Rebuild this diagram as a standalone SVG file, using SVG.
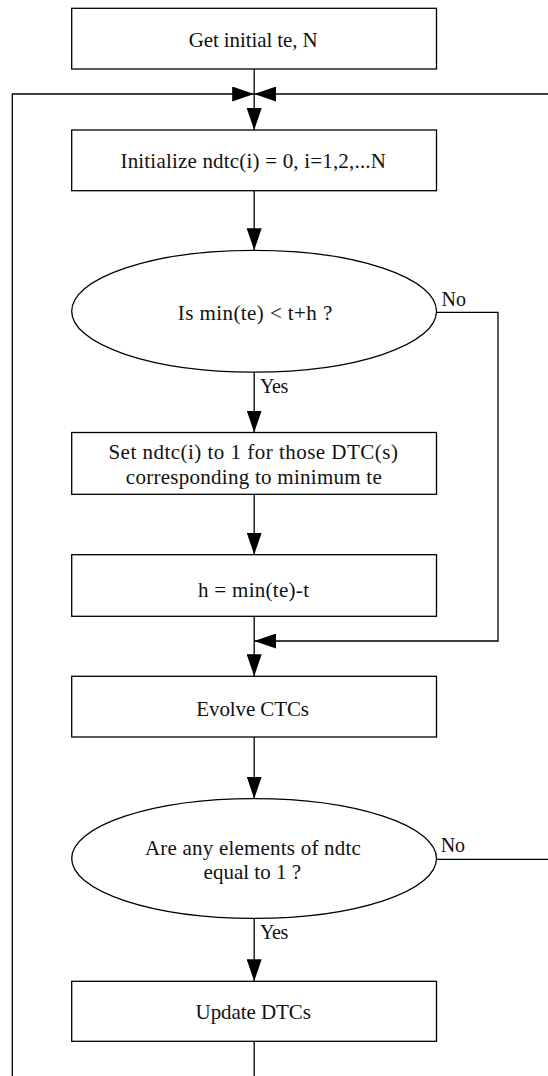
<svg xmlns="http://www.w3.org/2000/svg" width="548" height="1076" viewBox="0 0 548 1076">
  <style>
    .shape { fill: #ffffff; stroke: #000000; stroke-width: 1.3; }
    .wire { fill: none; stroke: #000000; stroke-width: 1.3; }
    .label { font-family: "Liberation Serif", "Times New Roman", serif; font-size: 21px; fill: #111111; text-anchor: middle; }
    .tag { font-family: "Liberation Serif", "Times New Roman", serif; font-size: 20px; fill: #111111; }
  </style>
  <defs>
    <marker id="arrow" viewBox="0 0 22 15" refX="22" refY="7.5" markerWidth="22" markerHeight="15" markerUnits="userSpaceOnUse" orient="auto">
      <path d="M0,0 L22,7.5 L0,15 Z" fill="#000000"/>
    </marker>
  </defs>
  <rect width="548" height="1076" fill="#ffffff"/>

  <!-- connectors -->
  <g id="connectors">
    <line class="wire" x1="254.2" y1="69" x2="254.2" y2="130" marker-end="url(#arrow)"/>
    <!-- loop-back from the bottom on the left -->
    <polyline class="wire" points="254.2,1076 254.2,1041.3"/>
    <polyline class="wire" points="12.3,1076 12.3,94 254.2,94" marker-end="url(#arrow)"/>
    <!-- loop-back arriving from the right -->
    <polyline class="wire" points="548,94 254.2,94" marker-end="url(#arrow)"/>
    <line class="wire" x1="254.2" y1="190.7" x2="254.2" y2="250.3" marker-end="url(#arrow)"/>
    <line class="wire" x1="254.2" y1="371.7" x2="254.2" y2="432.5" marker-end="url(#arrow)"/>
    <line class="wire" x1="254.2" y1="494.3" x2="254.2" y2="554.7" marker-end="url(#arrow)"/>
    <line class="wire" x1="254.2" y1="616.3" x2="254.2" y2="676.3" marker-end="url(#arrow)"/>
    <polyline class="wire" points="436.5,312.3 498,312.3 498,641 254.2,641" marker-end="url(#arrow)"/>
    <line class="wire" x1="254.2" y1="737" x2="254.2" y2="798.7" marker-end="url(#arrow)"/>
    <line class="wire" x1="436.5" y1="859.3" x2="548" y2="859.3"/>
    <line class="wire" x1="254.2" y1="918.3" x2="254.2" y2="981.3" marker-end="url(#arrow)"/>
    <text class="tag" x="441.5" y="305.7">No</text>
    <text class="tag" x="260" y="392.7" textLength="28.3">Yes</text>
    <text class="tag" x="440.7" y="852.3" textLength="24.3">No</text>
    <text class="tag" x="260" y="939" textLength="28.3">Yes</text>
  </g>

  <g id="get-initial">
    <rect class="shape" x="71.7" y="8.3" width="364.8" height="60.7"/>
    <text class="label" x="253.2" y="46.7" textLength="129">Get initial te, N</text>
  </g>

  <g id="initialize">
    <rect class="shape" x="71.7" y="130" width="364.8" height="60.7"/>
    <text class="label" x="253.2" y="168.3" textLength="265.5">Initialize ndtc(i) = 0, i=1,2,...N</text>
  </g>

  <g id="check-min">
    <ellipse class="shape" cx="254.1" cy="311.2" rx="182.4" ry="60.9"/>
    <text class="label" x="255" y="320" textLength="154.5">Is min(te) &lt; t+h ?</text>
  </g>

  <g id="set-ndtc">
    <rect class="shape" x="71.7" y="432.5" width="364.8" height="61.8"/>
    <text class="label" x="253.2" y="459.3" textLength="289.5">Set ndtc(i) to 1 for those DTC(s)</text>
    <text class="label" x="253.8" y="483.5" textLength="256">corresponding to minimum te</text>
  </g>

  <g id="set-h">
    <rect class="shape" x="71.7" y="554.7" width="364.8" height="61.6"/>
    <text class="label" x="253.5" y="596.5" textLength="111">h = min(te)-t</text>
  </g>

  <g id="evolve">
    <rect class="shape" x="71.7" y="676.3" width="364.8" height="60.7"/>
    <text class="label" x="252.7" y="715.7" textLength="112.7">Evolve CTCs</text>
  </g>

  <g id="check-ndtc">
    <ellipse class="shape" cx="254.1" cy="858.5" rx="182.4" ry="59.8"/>
    <text class="label" x="252.9" y="855.3" textLength="215.8">Are any elements of ndtc</text>
    <text class="label" x="252.3" y="879" textLength="97.4">equal to 1 ?</text>
  </g>

  <g id="update">
    <rect class="shape" x="71.7" y="981.3" width="364.8" height="60"/>
    <text class="label" x="253.2" y="1019" textLength="115.3">Update DTCs</text>
  </g>
</svg>
